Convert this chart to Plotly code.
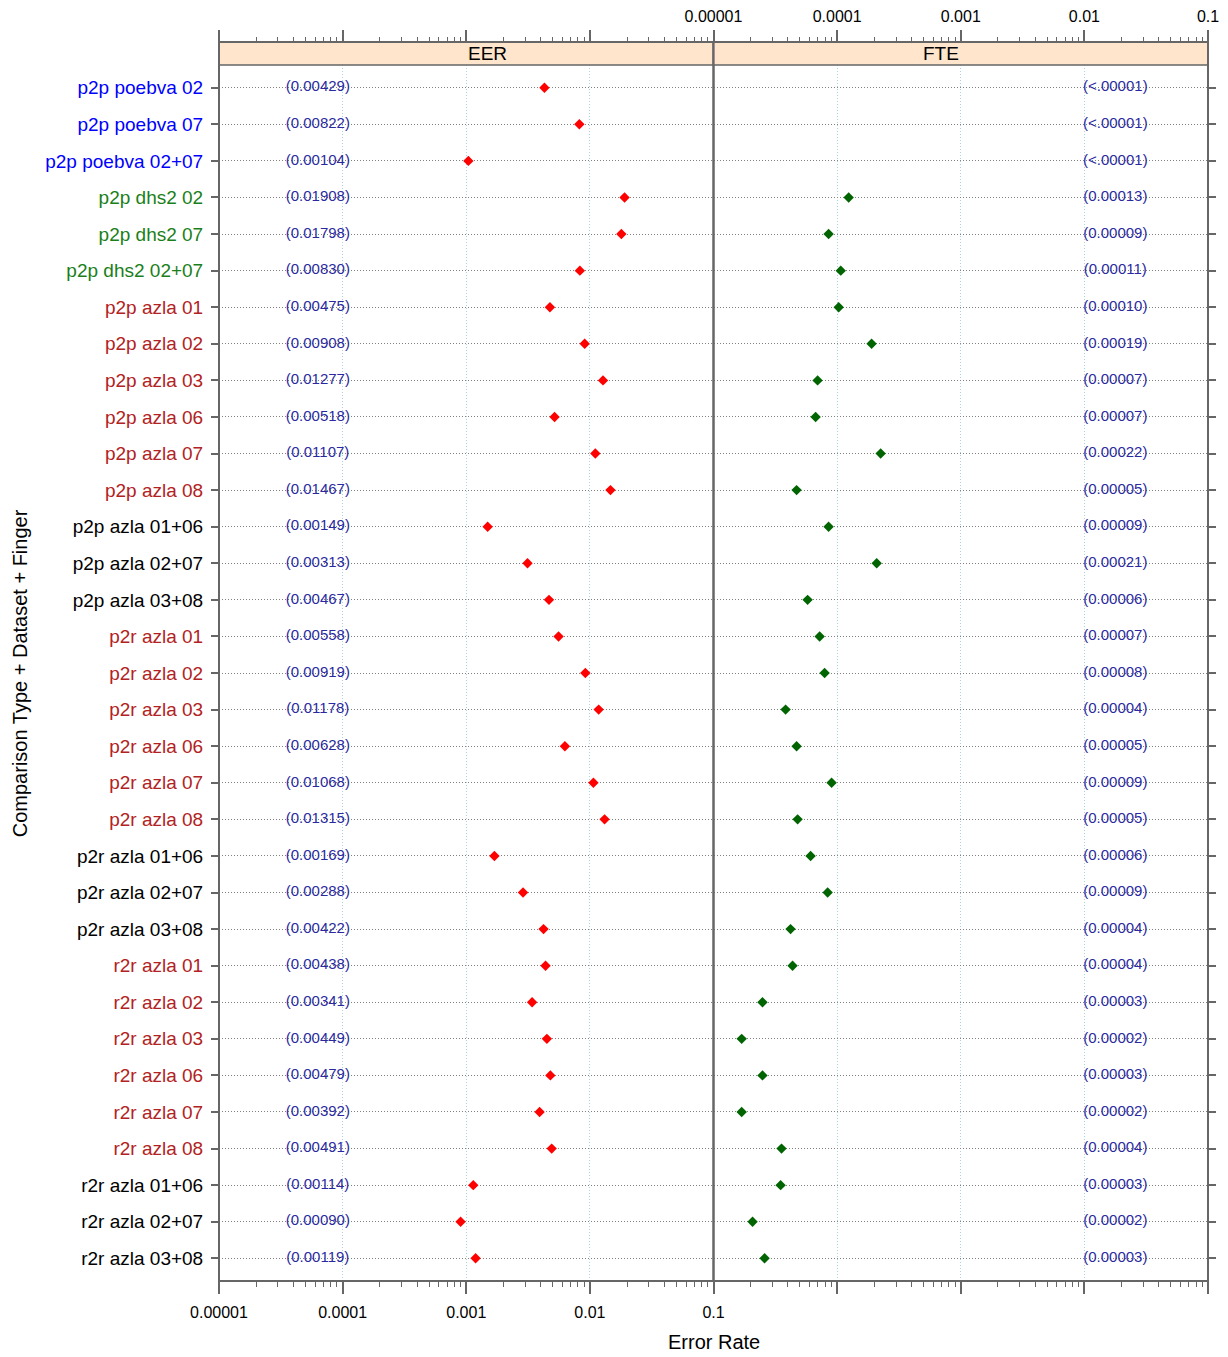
import plotly.graph_objects as go

# rows, top to bottom
labels = [
    "p2p poebva 02", "p2p poebva 07", "p2p poebva 02+07",
    "p2p dhs2 02", "p2p dhs2 07", "p2p dhs2 02+07",
    "p2p azla 01", "p2p azla 02", "p2p azla 03", "p2p azla 06", "p2p azla 07", "p2p azla 08",
    "p2p azla 01+06", "p2p azla 02+07", "p2p azla 03+08",
    "p2r azla 01", "p2r azla 02", "p2r azla 03", "p2r azla 06", "p2r azla 07", "p2r azla 08",
    "p2r azla 01+06", "p2r azla 02+07", "p2r azla 03+08",
    "r2r azla 01", "r2r azla 02", "r2r azla 03", "r2r azla 06", "r2r azla 07", "r2r azla 08",
    "r2r azla 01+06", "r2r azla 02+07", "r2r azla 03+08",
]

eer = [
    0.00429, 0.00822, 0.00104,
    0.01908, 0.01798, 0.00830,
    0.00475, 0.00908, 0.01277, 0.00518, 0.01107, 0.01467,
    0.00149, 0.00313, 0.00467,
    0.00558, 0.00919, 0.01178, 0.00628, 0.01068, 0.01315,
    0.00169, 0.00288, 0.00422,
    0.00438, 0.00341, 0.00449, 0.00479, 0.00392, 0.00491,
    0.00114, 0.00090, 0.00119,
]

# FTE points (none drawn for the <.00001 rows)
fte = [
    None, None, None,
    0.000124, 0.0000853, 0.000107,
    0.000103, 0.000190, 0.0000695, 0.0000670, 0.000225, 0.0000470,
    0.0000853, 0.000209, 0.0000577,
    0.0000722, 0.0000792, 0.0000383, 0.0000470, 0.0000902, 0.0000479,
    0.0000610, 0.0000838, 0.0000420,
    0.0000436, 0.0000249, 0.0000169, 0.0000249, 0.0000169, 0.0000355,
    0.0000349, 0.0000207, 0.0000259,
]

fte_text = [
    "(<.00001)", "(<.00001)", "(<.00001)",
    "(0.00013)", "(0.00009)", "(0.00011)",
    "(0.00010)", "(0.00019)", "(0.00007)", "(0.00007)", "(0.00022)", "(0.00005)",
    "(0.00009)", "(0.00021)", "(0.00006)",
    "(0.00007)", "(0.00008)", "(0.00004)", "(0.00005)", "(0.00009)", "(0.00005)",
    "(0.00006)", "(0.00009)", "(0.00004)",
    "(0.00004)", "(0.00003)", "(0.00002)", "(0.00003)", "(0.00002)", "(0.00004)",
    "(0.00003)", "(0.00002)", "(0.00003)",
]

eer_text = ["(%.5f)" % v for v in eer]

tick_vals = [0.00001, 0.0001, 0.001, 0.01, 0.1]
tick_text = ["0.00001", "0.0001", "0.001", "0.01", "0.1"]
minor_vals = [m * d for d in [0.00001, 0.0001, 0.001, 0.01] for m in range(2, 10)]

# label colour by group
def row_color(name):
    if "poebva" in name:
        return "#0000ff"
    if "dhs2" in name:
        return "#1a7f1a"
    if "+" in name:
        return "#000000"
    return "#b22222"

tick_html = ['<span style="color:%s">%s</span>' % (row_color(n), n) for n in labels]

FONT = "Liberation Sans, Arial, sans-serif"
FRAME = "#666666"
LBL_COLOR = "#2a2a9e"
panel_top = 0.9814

fig = go.Figure()

fig.add_trace(go.Scatter(
    x=[0.000063] * len(labels), y=labels, mode="text", text=eer_text,
    textfont=dict(family=FONT, size=15, color=LBL_COLOR),
    xaxis="x", yaxis="y", showlegend=False, hoverinfo="skip",
))
fig.add_trace(go.Scatter(
    x=eer, y=labels, mode="markers",
    marker=dict(symbol="diamond", size=8, color="#ff0000"),
    xaxis="x", yaxis="y", showlegend=False, name="EER",
))
fig.add_trace(go.Scatter(
    x=[0.0178] * len(labels), y=labels, mode="text", text=fte_text,
    textfont=dict(family=FONT, size=15, color=LBL_COLOR),
    xaxis="x2", yaxis="y2", showlegend=False, hoverinfo="skip",
))
fig.add_trace(go.Scatter(
    x=fte, y=labels, mode="markers",
    marker=dict(symbol="diamond", size=8, color="#006400"),
    xaxis="x2", yaxis="y2", showlegend=False, name="FTE",
))

xcommon = dict(
    type="log", range=[-5, -1], tickmode="array", tickvals=tick_vals, ticktext=tick_text,
    ticks="outside", ticklen=12, tickcolor=FRAME, tickwidth=1.5,
    minor=dict(tickmode="array", tickvals=minor_vals, ticks="outside", ticklen=5,
               tickcolor=FRAME, tickwidth=1, showgrid=False),
    showline=False, zeroline=False, automargin=False,
    tickfont=dict(family=FONT, size=16, color="#000000"),
)
xgrid = dict(showgrid=True, gridcolor="#a8d4e0", griddash="1px,2px", gridwidth=1)

ycommon = dict(
    categoryorder="array", categoryarray=labels, range=[32.62, -0.62],
    domain=[0, panel_top], showgrid=True, gridcolor="#808080", griddash="1px,2px", gridwidth=1,
    ticks="outside", ticklen=7, tickcolor=FRAME, tickwidth=1.5,
    showline=False, zeroline=False, automargin=False,
)

# page adds an 8px body margin, so the figure is 8px smaller each way
fig.update_layout(
    width=1220, height=1349,
    margin=dict(l=211, r=20, t=34, b=76),
    paper_bgcolor="white", plot_bgcolor="white",
    font=dict(family=FONT, size=16, color="#000000"),
    xaxis=dict(domain=[0, 0.5], anchor="y", side="bottom", ticklabelstandoff=5,
               **xcommon, **xgrid),
    xaxis2=dict(domain=[0.5, 1], anchor="y2", side="bottom", showticklabels=False,
                **xcommon, **xgrid),
    xaxis3=dict(overlaying="x", anchor="free", position=1, side="top", showticklabels=False,
                showgrid=False, **xcommon),
    xaxis4=dict(overlaying="x2", anchor="free", position=1, side="top", showticklabels=True,
                ticklabelstandoff=2, showgrid=False, **xcommon),
    yaxis=dict(anchor="x", side="left", tickmode="array", tickvals=labels, ticktext=tick_html,
               ticklabelstandoff=4, tickfont=dict(family=FONT, size=19), **ycommon),
    yaxis2=dict(anchor="x2", side="right", showticklabels=False, **ycommon),
)

# invisible traces so the top axes get drawn
fig.add_trace(go.Scatter(x=[0.001], y=[labels[0]], xaxis="x3", yaxis="y", mode="markers",
                         marker=dict(opacity=0), showlegend=False, hoverinfo="skip"))
fig.add_trace(go.Scatter(x=[0.001], y=[labels[0]], xaxis="x4", yaxis="y2", mode="markers",
                         marker=dict(opacity=0), showlegend=False, hoverinfo="skip"))

# strips and panel frames
shapes = []
for x0, x1 in [(0, 0.5), (0.5, 1)]:
    shapes.append(dict(type="rect", xref="paper", yref="paper", x0=x0, x1=x1, y0=panel_top, y1=1,
                       fillcolor="#ffe5cc", line=dict(color=FRAME, width=1.5), layer="above"))
    shapes.append(dict(type="rect", xref="paper", yref="paper", x0=x0, x1=x1, y0=0, y1=1,
                       fillcolor="rgba(0,0,0,0)", line=dict(color=FRAME, width=2), layer="above"))
fig.update_layout(shapes=shapes)

annotations = [
    dict(text="EER", x=0.25, y=(panel_top + 1) / 2),
    dict(text="FTE", x=0.75, y=(panel_top + 1) / 2),
]
for a in annotations:
    a.update(xref="paper", yref="paper", showarrow=False, yanchor="middle",
             font=dict(family=FONT, size=19, color="#000000"))
annotations.append(dict(text="Error Rate", x=0.5, y=-0.049, xref="paper", yref="paper",
                        showarrow=False, yanchor="middle",
                        font=dict(family=FONT, size=20, color="#000000")))
annotations.append(dict(text="Comparison Type + Dataset + Finger", x=-0.201, y=0.4907,
                        xref="paper", yref="paper", showarrow=False, textangle=-90,
                        xanchor="center", yanchor="middle",
                        font=dict(family=FONT, size=20, color="#000000")))
fig.update_layout(annotations=annotations)

fig.write_html("out.html")
